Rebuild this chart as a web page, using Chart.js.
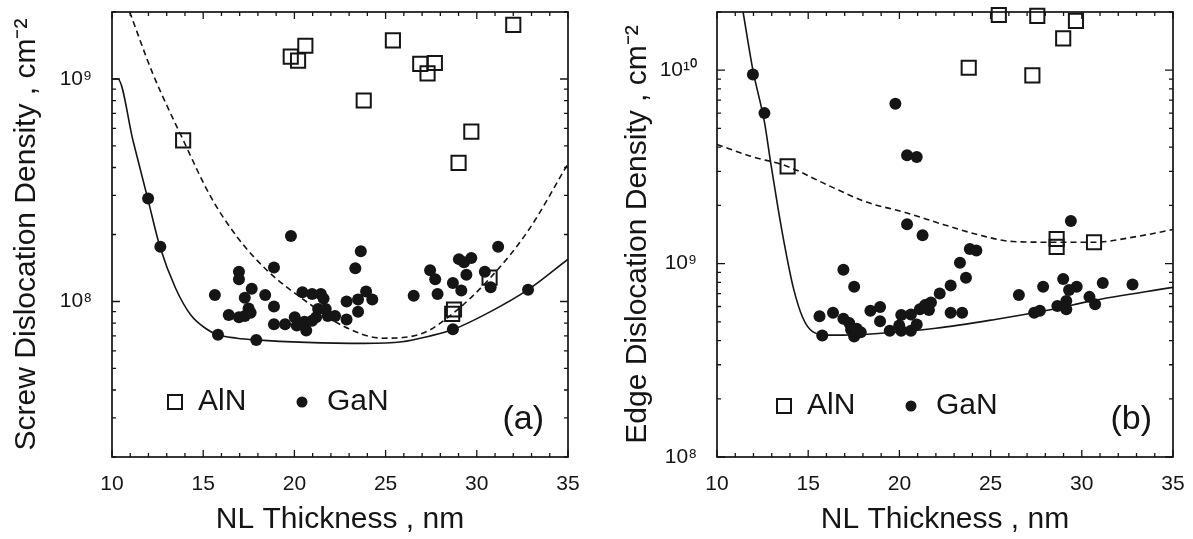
<!DOCTYPE html>
<html>
<head>
<meta charset="utf-8">
<script src="https://cdn.jsdelivr.net/npm/chart.js@4.4.1/dist/chart.umd.min.js"></script>
<style>
  body { margin: 0; background: #fff; }
  #quadro { position: relative; width: 1193px; height: 539px; }
  canvas { position: absolute; top: 0; }
  #graficoScrew { left: 0; }
  #graficoEdge { left: 600px; }
</style>
</head>
<body>
<div id="quadro">
  <canvas id="graficoScrew" width="600" height="539"></canvas>
  <canvas id="graficoEdge" width="593" height="539"></canvas>
</div>
<script>
const nomesSeries = ["AlN", "GaN"];
const tituloX = "NL Thickness , nm";
const tituloScrew = "Screw Dislocation Density , cm\u207B\u00B2";
const tituloEdge = "Edge Dislocation Density , cm\u207B\u00B2";

// (a) screw
const screwAlnThickness = [13.9, 19.8, 20.2, 20.6, 23.8, 25.4, 26.9, 27.3, 27.7, 29.7, 29.0, 32.0, 28.65, 28.75, 30.7];
const screwAlnDensity = [5.3e8, 1.26e9, 1.21e9, 1.41e9, 8.0e8, 1.49e9, 1.17e9, 1.06e9, 1.18e9, 5.8e8, 4.2e8, 1.75e9, 8.8e7, 9.2e7, 1.28e8];
const screwGanThickness = [11.98, 12.65, 15.81, 17.91, 15.64, 16.4, 16.96, 16.96, 16.96, 17.28, 17.49, 17.6, 17.28, 17.66, 18.4,
  18.88, 18.88, 18.88, 19.49, 19.81, 20.02, 20.13, 20.44, 20.55, 20.65, 20.97, 20.97, 21.45, 21.6, 21.3, 21.72, 21.19, 21.83,
  22.23, 22.86, 22.86, 23.49, 23.49, 23.34, 23.64, 23.93, 24.27, 26.54, 27.44, 27.72, 27.85, 28.69, 28.69, 29.02, 29.3, 29.7,
  29.15, 29.43, 30.44, 30.76, 31.17, 32.81];
const screwGanDensity = [2.9e8, 1.76e8, 7.08e7, 6.72e7, 1.07e8, 8.7e7, 8.5e7, 1.36e8, 1.26e8, 1.04e8, 9.3e7, 8.9e7, 8.6e7, 1.14e8, 1.07e8,
  1.42e8, 9.5e7, 7.9e7, 7.9e7, 1.97e8, 8.5e7, 7.8e7, 1.1e8, 8.1e7, 7.4e7, 8.2e7, 1.08e8, 1.08e8, 1.03e8, 9.25e7, 9.25e7, 8.5e7, 8.6e7,
  8.6e7, 1.0e8, 8.3e7, 1.02e8, 9.0e7, 1.41e8, 1.68e8, 1.11e8, 1.02e8, 1.06e8, 1.38e8, 1.26e8, 1.08e8, 1.21e8, 7.5e7, 1.55e8, 1.5e8, 1.57e8,
  1.12e8, 1.32e8, 1.36e8, 1.16e8, 1.76e8, 1.13e8];
const screwCurvaGanThickness = [10.0, 10.32, 11.16, 11.96, 12.63, 13.48, 14.32, 15.16, 15.79, 16.85, 17.9, 20.64, 23.8, 25.9, 27.38, 28.7, 30.75, 32.81, 35];
const screwCurvaGanDensity = [1.0e9, 1.0e9, 5.25e8, 2.9e8, 1.76e8, 1.15e8, 8.69e7, 7.54e7, 7.08e7, 6.84e7, 6.72e7, 6.55e7, 6.48e7, 6.59e7, 6.98e7, 7.48e7, 9.0e7, 1.13e8, 1.55e8];
const screwCurvaAlnThickness = [10.97, 12.23, 13.91, 15.39, 16.86, 18.54, 20.65, 22.75, 24.86, 26.96, 28.7, 30.75, 32.85, 35];
const screwCurvaAlnDensity = [2.0e9, 1.06e9, 5.3e8, 2.98e8, 1.95e8, 1.37e8, 1.0e8, 7.7e7, 6.84e7, 7.16e7, 8.85e7, 1.28e8, 2.1e8, 4.16e8];

// (b) edge
const edgeAlnThickness = [13.87, 23.8, 25.45, 27.56, 27.29, 28.98, 29.68, 28.62, 28.62, 30.67];
const edgeAlnDensity = [3.18e9, 1.03e10, 1.93e10, 1.91e10, 9.4e9, 1.46e10, 1.8e10, 1.34e9, 1.22e9, 1.29e9];
const edgeGanThickness = [11.97, 12.6, 19.78, 20.42, 20.95, 20.42, 21.27, 29.4, 16.93, 17.52, 15.62, 15.77, 16.36, 16.93, 17.25,
  17.35, 17.52, 17.66, 17.88, 18.41, 18.94, 18.94, 19.47, 19.99, 20.1, 20.1, 20.63, 20.63, 20.95, 21.12, 21.4, 21.62, 21.73,
  22.21, 22.81, 22.81, 23.44, 23.32, 23.65, 23.86, 24.22, 26.55, 27.39, 27.7, 27.88, 28.66, 28.98, 29.15, 29.15, 29.3, 29.72,
  30.42, 30.73, 31.15, 32.78];
const edgeGanDensity = [9.5e9, 6.0e9, 6.7e9, 3.63e9, 3.56e9, 1.6e9, 1.4e9, 1.66e9, 9.3e8, 7.6e8, 5.35e8, 4.25e8, 5.57e8, 5.18e8, 4.93e8,
  4.55e8, 4.2e8, 4.6e8, 4.42e8, 5.7e8, 5.97e8, 5.04e8, 4.5e8, 4.78e8, 5.42e8, 4.5e8, 5.45e8, 4.5e8, 4.84e8, 5.8e8, 6.1e8, 5.75e8, 6.3e8,
  7.0e8, 7.7e8, 5.57e8, 5.57e8, 1.01e9, 8.45e8, 1.19e9, 1.17e9, 6.88e8, 5.57e8, 5.7e8, 7.6e8, 6.04e8, 8.32e8, 6.4e8, 5.8e8, 7.31e8, 7.6e8,
  6.73e8, 6.17e8, 7.93e8, 7.8e8];
const edgeCurvaGanThickness = [11.43, 11.97, 12.6, 12.92, 13.34, 13.76, 14.18, 14.71, 15.24, 16.09, 16.93, 18.83, 22.0, 25.17, 28.34, 30.46, 35];
const edgeCurvaGanDensity = [2.0e10, 1.0e10, 5.4e9, 3.44e9, 1.95e9, 1.17e9, 7.54e8, 5.23e8, 4.45e8, 4.27e8, 4.27e8, 4.35e8, 4.63e8, 5.13e8, 5.79e8, 6.4e8, 7.54e8];
const edgeCurvaAlnThickness = [10.0, 11.86, 13.87, 16.09, 18.2, 20.31, 22.43, 24.33, 26.23, 28.62, 30.67, 33.0, 35];
const edgeCurvaAlnDensity = [4.13e9, 3.59e9, 3.18e9, 2.54e9, 2.08e9, 1.84e9, 1.59e9, 1.41e9, 1.30e9, 1.29e9, 1.29e9, 1.38e9, 1.5e9];

const TINTA = "#151515";
const FONTE = '"Liberation Sans", Arial, Helvetica, sans-serif';
const SOBRESCRITO = { "0": "\u2070", "1": "\u00B9", "2": "\u00B2", "3": "\u00B3", "4": "\u2074", "5": "\u2075", "6": "\u2076", "7": "\u2077", "8": "\u2078", "9": "\u2079" };

function pares(xs, ys) {
  return xs.map((x, i) => ({ x: x, y: ys[i] }));
}

function expoente(v) {
  const e = Math.round(Math.log10(v));
  return Math.abs(Math.log10(v) - e) < 1e-9 ? e : null;
}

function mantissaInteira(v) {
  const m = v / Math.pow(10, Math.floor(Math.log10(v) + 1e-9));
  return Math.abs(m - Math.round(m)) < 1e-6;
}

// moldura com tracinhos para dentro, nos quatro lados
const moldura = {
  id: "moldura",
  afterDraw(chart) {
    const { ctx, chartArea: a, scales } = chart;
    ctx.save();
    ctx.strokeStyle = TINTA;
    ctx.lineWidth = 1.3;
    ctx.beginPath();
    scales.x.ticks.forEach((t) => {
      const p = scales.x.getPixelForValue(t.value);
      const len = t.value % 5 === 0 ? 7 : 4;
      ctx.moveTo(p, a.bottom); ctx.lineTo(p, a.bottom - len);
      ctx.moveTo(p, a.top); ctx.lineTo(p, a.top + len);
    });
    scales.y.ticks.forEach((t) => {
      const p = scales.y.getPixelForValue(t.value);
      const len = expoente(t.value) !== null ? 8 : 4;
      ctx.moveTo(a.left, p); ctx.lineTo(a.left + len, p);
      ctx.moveTo(a.right, p); ctx.lineTo(a.right - len, p);
    });
    ctx.stroke();
    ctx.lineWidth = 1.7;
    ctx.strokeRect(a.left, a.top, a.right - a.left, a.bottom - a.top);
    ctx.restore();
  }
};

// legenda e letra do painel dentro da area
const legendaPainel = {
  id: "legendaPainel",
  afterDraw(chart, args, opts) {
    const { ctx, chartArea: a } = chart;
    const y = a.bottom + opts.dy;
    const x0 = a.left + opts.dx;
    ctx.save();
    ctx.strokeStyle = TINTA;
    ctx.fillStyle = TINTA;
    ctx.lineWidth = 2;
    ctx.strokeRect(x0 + 56, y - 7, 14, 14);
    ctx.beginPath();
    ctx.arc(x0 + 190, y, 5.5, 0, Math.PI * 2);
    ctx.fill();
    ctx.font = "30px " + FONTE;
    ctx.textBaseline = "middle";
    ctx.textAlign = "left";
    ctx.fillText(nomesSeries[0], x0 + 86, y);
    ctx.fillText(nomesSeries[1], x0 + 215, y);
    ctx.font = "34px " + FONTE;
    ctx.textAlign = "right";
    ctx.fillText(opts.tag, a.right - opts.tagRight, a.bottom - 37);
    ctx.restore();
  }
};

function criarPainel(canvasId, p) {
  return new Chart(document.getElementById(canvasId), {
    type: "scatter",
    data: {
      datasets: [
        {
          label: nomesSeries[1],
          data: pares(p.ganX, p.ganY),
          pointStyle: "circle",
          pointRadius: 6,
          backgroundColor: TINTA,
          borderWidth: 0,
          clip: false,
        },
        {
          label: nomesSeries[0],
          data: pares(p.alnX, p.alnY),
          pointStyle: "rect",
          pointRadius: 10,
          backgroundColor: "rgba(0,0,0,0)",
          borderColor: TINTA,
          borderWidth: 2,
          clip: false,
        },
        {
          label: "ajuste GaN",
          data: pares(p.curvaGanX, p.curvaGanY),
          showLine: true,
          pointRadius: 0,
          borderColor: TINTA,
          borderWidth: 1.6,
          cubicInterpolationMode: "monotone",
        },
        {
          label: "ajuste AlN",
          data: pares(p.curvaAlnX, p.curvaAlnY),
          showLine: true,
          pointRadius: 0,
          borderColor: TINTA,
          borderWidth: 1.6,
          borderDash: [6, 4],
          cubicInterpolationMode: "monotone",
        },
      ],
    },
    options: {
      responsive: false,
      animation: false,
      events: [],
      layout: { padding: { left: 0, top: 6, right: p.padRight, bottom: 0 } },
      plugins: {
        legend: { display: false },
        tooltip: { enabled: false },
        legendaPainel: { tag: p.tag, dx: p.keyDx, dy: p.keyDy, tagRight: p.tagRight },
      },
      scales: {
        x: {
          type: "linear",
          min: 10,
          max: 35,
          grid: { display: false },
          border: { display: false },
          ticks: {
            stepSize: 1,
            maxTicksLimit: 40,
            autoSkip: false,
            maxRotation: 0,
            padding: 7,
            color: TINTA,
            font: { family: FONTE, size: 21 },
            callback: (v) => (v % 5 === 0 ? String(v) : ""),
          },
          title: {
            display: true,
            text: tituloX,
            color: TINTA,
            font: { family: FONTE, size: 30 },
            padding: { top: 0, bottom: 1 },
          },
          afterFit: (s) => {
            s.height = 82;
            s.paddingLeft = 0;
            s.paddingRight = 0;
          },
        },
        y: {
          type: "logarithmic",
          min: p.yMin,
          max: p.yMax,
          grid: { display: false },
          border: { display: false },
          afterBuildTicks: (s) => {
            s.ticks = s.ticks.filter((t) => mantissaInteira(t.value));
          },
          ticks: {
            autoSkip: false,
            padding: 12,
            color: TINTA,
            font: { family: FONTE, size: 21 },
            callback: (v) => {
              const e = expoente(v);
              if (e === null) return "";
              return "10" + String(e).split("").map((d) => SOBRESCRITO[d]).join("");
            },
          },
          title: {
            display: true,
            text: p.tituloY,
            color: TINTA,
            font: { family: FONTE, size: 30 },
            padding: { top: p.titlePad, bottom: 0 },
          },
          afterFit: (s) => {
            s.width = p.axisWidth;
            s.paddingTop = 0;
            s.paddingBottom = 0;
          },
        },
      },
    },
    plugins: [moldura, legendaPainel],
  });
}

const graficoScrew = criarPainel("graficoScrew", {
  ganX: screwGanThickness, ganY: screwGanDensity,
  alnX: screwAlnThickness, alnY: screwAlnDensity,
  curvaGanX: screwCurvaGanThickness, curvaGanY: screwCurvaGanDensity,
  curvaAlnX: screwCurvaAlnThickness, curvaAlnY: screwCurvaAlnDensity,
  yMin: 2e7, yMax: 2e9,
  tituloY: tituloScrew,
  axisWidth: 112, padRight: 32, titlePad: 9,
  tag: "(a)", keyDx: 0, keyDy: -55, tagRight: 24,
});

const graficoEdge = criarPainel("graficoEdge", {
  ganX: edgeGanThickness, ganY: edgeGanDensity,
  alnX: edgeAlnThickness, alnY: edgeAlnDensity,
  curvaGanX: edgeCurvaGanThickness, curvaGanY: edgeCurvaGanDensity,
  curvaAlnX: edgeCurvaAlnThickness, curvaAlnY: edgeCurvaAlnDensity,
  yMin: 1e8, yMax: 2e10,
  tituloY: tituloEdge,
  axisWidth: 117, padRight: 20, titlePad: 20,
  tag: "(b)", keyDx: 4, keyDy: -51, tagRight: 21,
});
</script>
</body>
</html>
